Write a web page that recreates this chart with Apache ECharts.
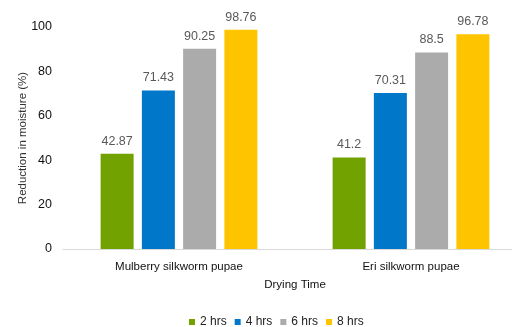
<!DOCTYPE html>
<html><head><meta charset="utf-8">
<script src="https://cdn.jsdelivr.net/npm/echarts@6/dist/echarts.min.js"></script>
<style>html,body{margin:0;padding:0;background:#fff;overflow:hidden;width:512px;height:327px}#c{width:530px;height:327px}</style>
</head><body><div id="c"></div>
<script>
const categories = ['Mulberry silkworm pupae', 'Eri silkworm pupae'];
const seriesNames = ['2 hrs', '4 hrs', '6 hrs', '8 hrs'];
const hrs2 = [42.87, 41.2];
const hrs4 = [71.43, 70.31];
const hrs6 = [90.25, 88.5];
const hrs8 = [98.76, 96.78];
const yTicks = [0, 20, 40, 60, 80, 100];

const colors = ['#71A200', '#0077C8', '#ABABAB', '#FFC400'];
const values = [hrs2, hrs4, hrs6, hrs8];
const font = 'Liberation Sans, Arial, sans-serif';

const chart = echarts.init(document.getElementById('c'));
chart.setOption({
  animation: false,
  textStyle: { fontFamily: font },
  grid: { left: 63, top: 27, width: 464, height: 222, containLabel: false },
  legend: {
    data: seriesNames, top: 311, left: 184, itemWidth: 6, itemHeight: 6, itemGap: 8,
    icon: 'rect', textStyle: { fontSize: 12, color: '#222', fontFamily: font }
  },
  xAxis: {
    type: 'category', data: categories,
    name: 'Drying Time', nameLocation: 'middle', nameGap: 30,
    nameTextStyle: { fontSize: 11.5, color: '#111', fontFamily: font },
    axisLine: { lineStyle: { color: '#D9D9D9', width: 1 } },
    axisTick: { show: false },
    axisLabel: { fontSize: 11.5, color: '#111', margin: 12, fontFamily: font }
  },
  yAxis: {
    type: 'value', min: 0, max: 100, interval: 20,
    name: 'Reduction in moisture (%)', nameLocation: 'middle', nameGap: 34,
    nameMoveOverlap: false,
    nameTextStyle: { fontSize: 11.5, color: '#333', fontFamily: font },
    axisLine: { show: false }, axisTick: { show: false }, splitLine: { show: false },
    axisLabel: { fontSize: 12.5, color: '#111', margin: 11, fontFamily: font,
      formatter: v => yTicks.includes(v) ? String(v) : '' }
  },
  series: values.map((d, i) => ({
    name: seriesNames[i], type: 'bar', data: d, barWidth: 33, barGap: '25%',
    itemStyle: { color: colors[i] },
    label: { show: true, position: 'top', distance: 6, fontSize: 12.5, color: '#595959', fontFamily: font }
  }))
});
</script></body></html>
